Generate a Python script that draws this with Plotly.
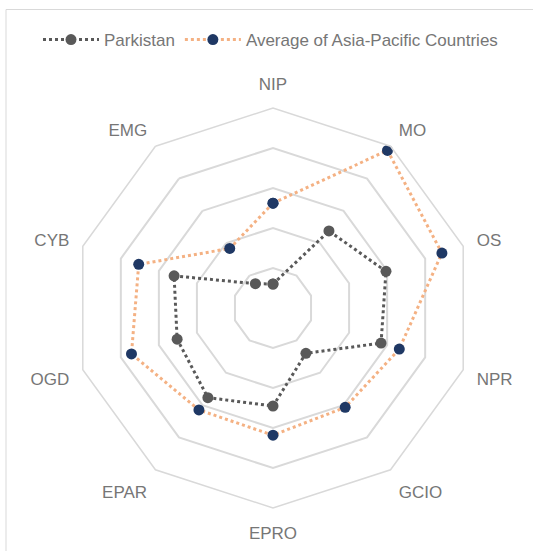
import plotly.graph_objects as go

categories = ["NIP", "MO", "OS", "NPR", "GCIO", "EPRO", "EPAR", "OGD", "CYB", "EMG"]
pakistan = [0.60, 2.38, 2.97, 2.84, 1.40, 2.45, 2.77, 2.52, 2.60, 0.75]
asia_pacific = [2.62, 4.87, 4.44, 3.32, 3.07, 3.18, 3.15, 3.72, 3.53, 1.84]
series_names = ["Parkistan", "Average of Asia-Pacific Countries"]

W, H = 533, 551
L, R, T, B = 73, 60, 108, 43

def closed(v):
    return list(v) + [v[0]]

fig = go.Figure()
fig.add_trace(go.Scatterpolar(
    r=closed(pakistan), theta=closed(categories), name=series_names[0],
    mode="lines+markers",
    line=dict(color="#595959", width=3, dash="dot"),
    marker=dict(color="#595959", size=11),
))
fig.add_trace(go.Scatterpolar(
    r=closed(asia_pacific), theta=closed(categories), name=series_names[1],
    mode="lines+markers",
    line=dict(color="#F4B183", width=3, dash="dot"),
    marker=dict(color="#1F3864", size=11),
))

pw, ph = W - L - R, H - T - B
def px_x(p):
    return (p - L) / pw
def px_y(p):
    return (H - B - p) / ph

fig.update_layout(
    width=W, height=H,
    margin=dict(l=L, r=R, t=T, b=B, autoexpand=False),
    paper_bgcolor="white",
    font=dict(family="Liberation Sans, Arial, sans-serif", color="#767676"),
    polar=dict(
        bgcolor="white",
        gridshape="linear",
        angularaxis=dict(
            direction="clockwise", rotation=90,
            showline=True, linecolor="#d9d9d9", linewidth=1.5,
            showgrid=False,
            ticks="outside", ticklen=10, tickcolor="rgba(0,0,0,0)",
            tickfont=dict(size=17, color="#767676"),
        ),
        radialaxis=dict(
            range=[0, 5], dtick=1, showline=False, showticklabels=False,
            ticks="", gridcolor="#d9d9d9", gridwidth=1.5,
        ),
    ),
    legend=dict(
        orientation="h", x=px_x(38), xanchor="left",
        y=px_y(40), yanchor="middle",
        font=dict(size=17, color="#767676"),
        itemwidth=56,
        bgcolor="rgba(0,0,0,0)",
    ),
    shapes=[dict(
        type="rect", xref="paper", yref="paper",
        x0=px_x(6), x1=px_x(545), y0=px_y(560), y1=px_y(9.5),
        line=dict(color="#d9d9d9", width=1), fillcolor="rgba(0,0,0,0)",
        layer="below",
    )],
)

fig.write_html("out.html", config={"displayModeBar": False},
               post_script="document.body.style.margin='0';")
